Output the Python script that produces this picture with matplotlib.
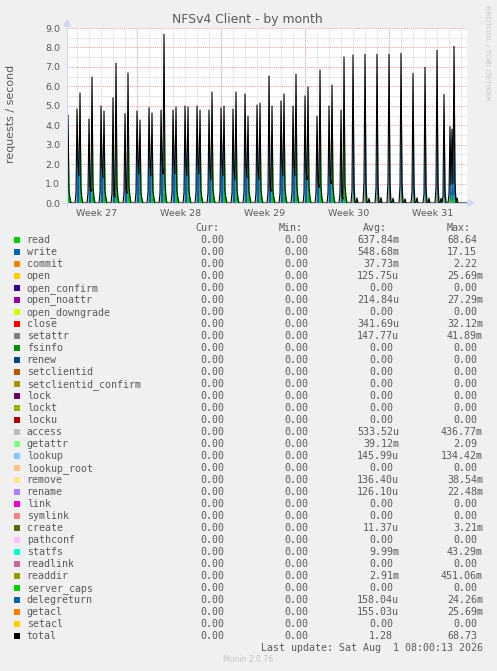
import numpy as np
import matplotlib
matplotlib.use("Agg")
import matplotlib.pyplot as plt
from matplotlib.patches import Rectangle, Polygon
from matplotlib.lines import Line2D
from matplotlib.transforms import IdentityTransform

# ---------------- data ----------------
title = "NFSv4 Client - by month"
ylabel = "requests / second"
week_labels = ["Week 27", "Week 28", "Week 29", "Week 30", "Week 31"]
week_label_hours = [60, 228, 396, 564, 732]      # hours since left edge of graph
week_start_hours = [140, 308, 476, 644]
y_ticks = [0.0, 1.0, 2.0, 3.0, 4.0, 5.0, 6.0, 7.0, 8.0, 9.0]

# first (write-heavy) spike of each daily pair
a_hours = [20, 44, 68, 92, 116, 140, 164, 188, 212, 236, 260, 284, 308, 332, 356,
           380, 404, 428, 452, 476, 500, 524, 548]
a_total = [4.83, 4.32, 4.99, 5.42, 4.60, 4.73, 4.90, 4.78, 4.78, 4.99, 4.99, 4.78,
           4.89, 4.83, 5.61, 5.04, 6.53, 5.25, 4.99, 5.51, 4.47, 4.99, 4.78]
a_write_tail = [2.1, 0.9, 1.9, 0.4, 0.7, 2.2, 2.0, 2.2, 2.2, 2.0, 2.2, 1.7, 2.1, 1.7,
                1.9, 1.7, 0.85, 2.05, 2.0, 1.7, 1.2, 1.5, 0.3]
a_write_tail2 = [1.4, 0.6, 1.3, 0.3, 0.5, 1.5, 1.4, 1.5, 1.5, 1.4, 1.5, 1.2, 1.4, 1.2,
                 1.3, 1.2, 0.6, 1.4, 1.4, 1.2, 0.8, 1.0, 0.2]
# second (read-heavy) spike of each daily pair
b_hours = [2, 26, 50, 74, 98, 122, 146, 170, 194, 218, 242, 266, 290, 314, 338, 362,
           386, 410, 434, 458, 482, 506, 530, 554]
b_total = [4.53, 5.66, 6.48, 4.73, 7.20, 6.69, 4.27, 4.63, 8.68, 4.94, 4.94, 4.78,
           5.71, 4.99, 5.71, 4.47, 5.14, 4.99, 5.61, 6.63, 5.97, 6.84, 6.07, 7.51]
b_read_tail = [0.6, 0.7, 0.8, 0.6, 0.9, 0.8, 0.5, 0.6, 1.1, 0.6, 0.6, 0.6, 0.7, 0.6,
               0.7, 0.6, 0.7, 0.6, 0.7, 0.8, 0.8, 0.8, 0.8, 0.9]
# single daily spikes in the last days
c_hours = [572, 596, 620, 644, 668, 692, 716, 740, 754, 766, 770, 774]
c_total = [7.61, 7.65, 7.65, 7.65, 7.70, 6.67, 6.98, 7.85, 5.59, 3.93, 3.80, 8.06]
c_commit = [0.5, 0.93, 0.6, 0.95, 0.7, 0.4, 0.3, 0.65, 0.2, 0.3, 0.3, 0.35]
c_read_tail = [1.0, 1.0, 1.0, 1.0, 1.0, 0.9, 0.9, 1.0, 0.7, 0.5, 0.5, 1.1]
# small bumps between the spikes
bump_hours = [6, 30, 54, 78, 102, 126, 150, 174, 198, 222, 246, 270, 294, 318, 342,
              366, 390, 414, 438, 462, 486, 510, 534, 558, 580, 604, 628, 652, 676,
              700, 724, 748, 780]
bump_total = [0.25, 0.22, 0.28, 0.24, 0.26, 0.30, 0.22, 0.25, 0.27, 0.24, 0.26, 0.23,
              0.28, 0.25, 0.24, 0.27, 0.22, 0.25, 0.26, 0.24, 0.28, 0.23, 0.25, 0.30,
              0.26, 0.24, 0.28, 0.25, 0.22, 0.27, 0.25, 0.24, 0.26]
lead_commit = 0.35
lead_getattr = 0.15
bump_getattr = 0.10

names = ["read", "write", "commit", "open", "open_confirm", "open_noattr",
         "open_downgrade", "close", "setattr", "fsinfo", "renew", "setclientid",
         "setclientid_confirm", "lock", "lockt", "locku", "access", "getattr", "lookup",
         "lookup_root", "remove", "rename", "link", "symlink", "create", "pathconf",
         "statfs", "readlink", "readdir", "server_caps", "delegreturn", "getacl",
         "setacl", "total"]
colors = ["#00CC00", "#0066B3", "#FF8000", "#FFCC00", "#330099", "#990099", "#CCFF00",
          "#FF0000", "#808080", "#008F00", "#00487D", "#B35A00", "#B38F00", "#6B006B",
          "#8FB300", "#B30000", "#BEBEBE", "#80FF80", "#80C9FF", "#FFC080", "#FFE680",
          "#AA80FF", "#EE00CC", "#FF8080", "#666600", "#FFBFFF", "#00FFCC", "#CC6699",
          "#999900", "#00CC00", "#0066B3", "#FF8000", "#FFCC00", "#000000"]
cur_vals = ["0.00"] * 34
min_vals = ["0.00"] * 34
avg_vals = ["637.84m", "548.68m", "37.73m", "125.75u", "0.00", "214.84u", "0.00",
            "341.69u", "147.77u", "0.00", "0.00", "0.00", "0.00", "0.00", "0.00", "0.00",
            "533.52u", "39.12m", "145.99u", "0.00", "136.40u", "126.10u", "0.00", "0.00",
            "11.37u", "0.00", "9.99m", "0.00", "2.91m", "0.00", "158.04u", "155.03u",
            "0.00", "1.28"]
max_vals = ["68.64", "17.15", "2.22", "25.69m", "0.00", "27.29m", "0.00", "32.12m",
            "41.89m", "0.00", "0.00", "0.00", "0.00", "0.00", "0.00", "0.00", "436.77m",
            "2.09", "134.42m", "0.00", "38.54m", "22.48m", "0.00", "0.00", "3.21m",
            "0.00", "43.29m", "0.00", "451.06m", "0.00", "24.26m", "25.69m", "0.00",
            "68.73"]
last_update = "Last update: Sat Aug  1 08:00:13 2026"

# ---------------- build series on a 2-hour grid ----------------
step = 2
hours = np.arange(0, 800 + step, step)
n = len(hours)
ser = {k: np.zeros(n) for k in ["read", "write", "commit", "getattr"]}


def put(name, h, v):
    i = int(round(h / step))
    if 0 <= i < n:
        ser[name][i] += v


for h, t, tail, tail2 in zip(a_hours, a_total, a_write_tail, a_write_tail2):
    put("commit", h - step, lead_commit)
    put("getattr", h - step, lead_getattr)
    put("write", h, t)
    put("write", h + step, tail)
    put("write", h + 2 * step, tail2)
for h, t, tail in zip(b_hours, b_total, b_read_tail):
    put("read", h, t)
    put("read", h + step, tail)
for h, t, cm, tail in zip(c_hours, c_total, c_commit, c_read_tail):
    put("commit", h - step, cm)
    put("getattr", h - step, lead_getattr)
    put("write", h, t)
    put("read", h + step, tail)
for h, t in zip(bump_hours, bump_total):
    put("getattr", h, bump_getattr)
    put("read", h, t - bump_getattr)

total = ser["read"] + ser["write"] + ser["commit"] + ser["getattr"]

# ---------------- figure ----------------
W, H = 497, 671
fig = plt.figure(figsize=(W / 100, H / 100), dpi=100)
fig.patch.set_facecolor("#F0F0F0")
T = IdentityTransform()
FONT_C = "#5a5a5a"


def ftext(x, y, s, **kw):
    return fig.text(x, H - y, s, transform=T, **kw)


ax = fig.add_axes([67 / W, 1 - 203 / H, 400 / W, 175 / H])
ax.set_facecolor("white")
ax.set_xlim(0, 800)
ax.set_ylim(0, 9)
for s in ax.spines.values():
    s.set_visible(False)

# grid
minor_c, major_c = "#d6d6d6", "#eba3a3"
for v in np.arange(0.5, 9.0, 1.0):
    ax.axhline(v, color=minor_c, lw=0.75, ls=(0, (1, 1)), zorder=1)
for v in np.arange(20, 800, 24):
    ax.axvline(v, color=minor_c, lw=0.75, ls=(0, (1, 1)), zorder=1)
for v in y_ticks[1:]:
    ax.axhline(v, color=major_c, lw=0.75, ls=(0, (1, 1)), zorder=1.5)
for v in week_start_hours:
    ax.axvline(v, color=major_c, lw=0.75, ls=(0, (1, 1)), zorder=1.5)

# stacked areas (read first, then STACK)
base = np.zeros(n)
for name in ["read", "write", "commit", "getattr"]:
    c = colors[names.index(name)]
    top = base + ser[name]
    ax.fill_between(hours, base, top, color=c, lw=0, zorder=3)
    base = top
ax.plot(hours, total, color="black", lw=0.8, zorder=4)

# ticks
ax.set_yticks(y_ticks)
ax.set_yticklabels([f"{v:.1f}" for v in y_ticks])
ax.set_xticks(week_label_hours)
ax.set_xticklabels(week_labels)
ax.tick_params(axis="both", length=0, labelsize=6.8, labelcolor=FONT_C)
ax.tick_params(axis="y", pad=5.0)
ax.tick_params(axis="x", pad=4.0)

# axes lines + arrows (rrdtool style)
axis_c = "#CFD6F8"
fig.add_artist(Line2D([67, 67], [H - 206, H - 24], color=axis_c, lw=0.75, transform=T))
fig.add_artist(Line2D([63, 470], [H - 203, H - 203], color=axis_c, lw=0.75, transform=T,
                      zorder=0.5))
fig.add_artist(Polygon([[64, H - 26], [70, H - 26], [67, H - 20]], closed=True,
                       color=axis_c, transform=T))
fig.add_artist(Polygon([[468, H - 200], [468, H - 206], [474, H - 203]], closed=True,
                       color=axis_c, transform=T))

# texts
ftext(247.5, 22.5, title, ha="center", va="baseline", fontsize=8.9, color=FONT_C)
ftext(11.5, 114, ylabel, ha="center", va="center", rotation=90, fontsize=7.9,
      color=FONT_C)
ftext(487, 53, "RRDTOOL / TOBI OETIKER", ha="center", va="center", rotation=270,
      fontsize=5.4, color="#c8c8c8")
ftext(248, 660, "Munin 2.0.76", ha="center", va="center", fontsize=5.5, color="#c4c4c4")

# legend
mono = dict(family="DejaVu Sans Mono", fontsize=7.2, color=FONT_C)
hdr_y = 227.3
for lbl, x in zip(["Cur:", "Min:", "Avg:", "Max:"], [195, 279, 363, 447]):
    ftext(x, hdr_y + 3.4, lbl, ha="left", va="baseline", **mono)
col_right = [230, 314, 399, 483]
for i, name in enumerate(names):
    y = 240 + 12 * i
    fig.add_artist(Rectangle((14, H - y - 3), 6, 6, facecolor=colors[i], edgecolor="none",
                             transform=T))
    ftext(26.7, y + 3.4, name, ha="left", va="baseline", **mono)
    for val, r in zip([cur_vals[i], min_vals[i], avg_vals[i], max_vals[i]], col_right):
        rx = r if val[-1].isalpha() else r - 6.02
        ftext(rx, y + 3.4, val, ha="right", va="baseline", **mono)
ftext(483, 647.3 + 3.4, last_update, ha="right", va="baseline", **mono)

fig.savefig("out.png", dpi=100, facecolor=fig.get_facecolor())
